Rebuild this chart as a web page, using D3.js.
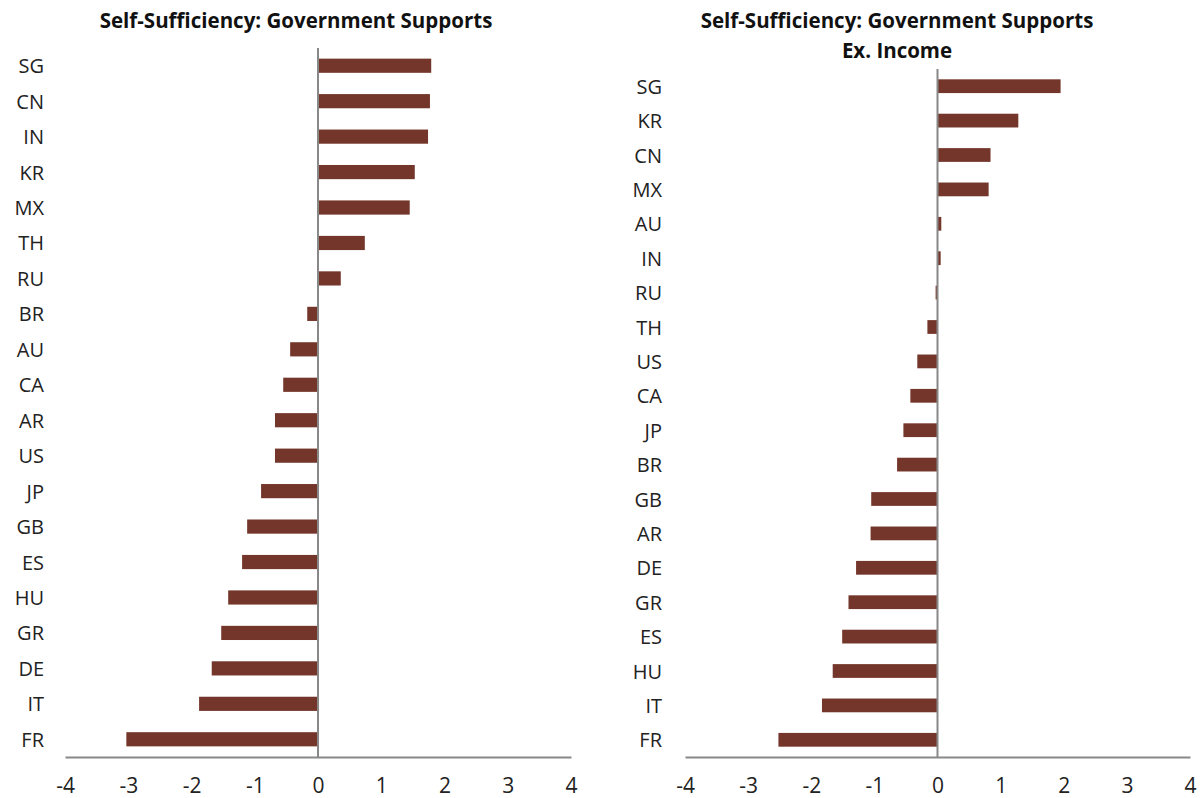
<!DOCTYPE html>
<html>
<head>
<meta charset="utf-8">
<script src="https://cdn.jsdelivr.net/npm/d3@7"></script>
<style>
  html, body { margin: 0; padding: 0; background: #fff; }
  svg { display: block; }
</style>
</head>
<body>
<svg id="chart" width="1200" height="798"></svg>
<script>
// ---- Data ----
const leftTitle = ["Self-Sufficiency: Government Supports"];
const leftCategories = ["SG","CN","IN","KR","MX","TH","RU","BR","AU","CA","AR","US","JP","GB","ES","HU","GR","DE","IT","FR"];
const leftValues = [1.79,1.77,1.74,1.53,1.45,0.74,0.36,-0.17,-0.44,-0.55,-0.68,-0.68,-0.90,-1.12,-1.20,-1.42,-1.53,-1.68,-1.88,-3.03];

const rightTitle = ["Self-Sufficiency: Government Supports", "Ex. Income"];
const rightCategories = ["SG","KR","CN","MX","AU","IN","RU","TH","US","CA","JP","BR","GB","AR","DE","GR","ES","HU","IT","FR"];
const rightValues = [1.95,1.28,0.84,0.81,0.06,0.05,-0.03,-0.16,-0.32,-0.43,-0.54,-0.64,-1.05,-1.06,-1.29,-1.41,-1.51,-1.66,-1.83,-2.52];

const xTicks = [-4,-3,-2,-1,0,1,2,3,4];
const xDomain = [-4, 4];

// ---- Style ----
const barColor = "#74362a";
const axisColor = "#888888";
const textColor = "#222222";
const fontFamily = "'Open Sans', 'Noto Sans', sans-serif";

const svg = d3.select("#chart");

function panel(cfg) {
  const g = svg.append("g");
  const x = d3.scaleLinear().domain(xDomain).range([cfg.x0, cfg.x1]);
  const y = d3.scaleBand().domain(cfg.categories).range([cfg.top, cfg.bottom]).paddingInner(0.6).paddingOuter(0.3);

  // title
  cfg.title.forEach((t, i) => {
    g.append("text")
      .attr("x", cfg.titleX)
      .attr("y", cfg.titleY + i * 30)
      .attr("text-anchor", "middle")
      .attr("dominant-baseline", "middle")
      .attr("font-family", fontFamily)
      .attr("font-weight", 700)
      .attr("font-size", 20.5)
      .attr("letter-spacing", 0)
      .attr("fill", "#111")
      .text(t);
  });

  // bars
  g.selectAll("rect.bar")
    .data(cfg.values)
    .enter().append("rect")
    .attr("class", "bar")
    .attr("x", d => x(Math.min(0, d)))
    .attr("width", d => Math.abs(x(d) - x(0)))
    .attr("y", (d, i) => y(cfg.categories[i]))
    .attr("height", y.bandwidth())
    .attr("fill", barColor);

  // category labels
  g.selectAll("text.cat")
    .data(cfg.categories)
    .enter().append("text")
    .attr("class", "cat")
    .attr("x", cfg.labelX)
    .attr("y", d => y(d) + y.bandwidth() / 2)
    .attr("text-anchor", "end")
    .attr("dominant-baseline", "central")
    .attr("font-family", fontFamily)
    .attr("font-size", 20)
    .attr("fill", textColor)
    .text(d => d);

  // zero line (category axis)
  g.append("line")
    .attr("x1", x(0)).attr("x2", x(0))
    .attr("y1", cfg.top).attr("y2", cfg.bottom)
    .attr("stroke", axisColor).attr("stroke-width", 2);

  // value axis
  const axis = d3.axisBottom(x).tickValues(xTicks).tickSize(0).tickPadding(21).tickFormat(d => String(d));
  const ag = g.append("g").attr("transform", `translate(0,${cfg.bottom})`).call(axis);
  ag.select(".domain").attr("stroke", axisColor).attr("stroke-width", 2);
  ag.selectAll("text")
    .attr("font-family", fontFamily)
    .attr("font-size", 21)
    .attr("fill", textColor);
}

panel({
  title: leftTitle, titleX: 296, titleY: 23,
  categories: leftCategories, values: leftValues,
  x0: 65, x1: 571, top: 48, bottom: 757, labelX: 44
});

panel({
  title: rightTitle, titleX: 897, titleY: 23,
  categories: rightCategories, values: rightValues,
  x0: 685, x1: 1190, top: 69, bottom: 757, labelX: 662
});
</script>
</body>
</html>
